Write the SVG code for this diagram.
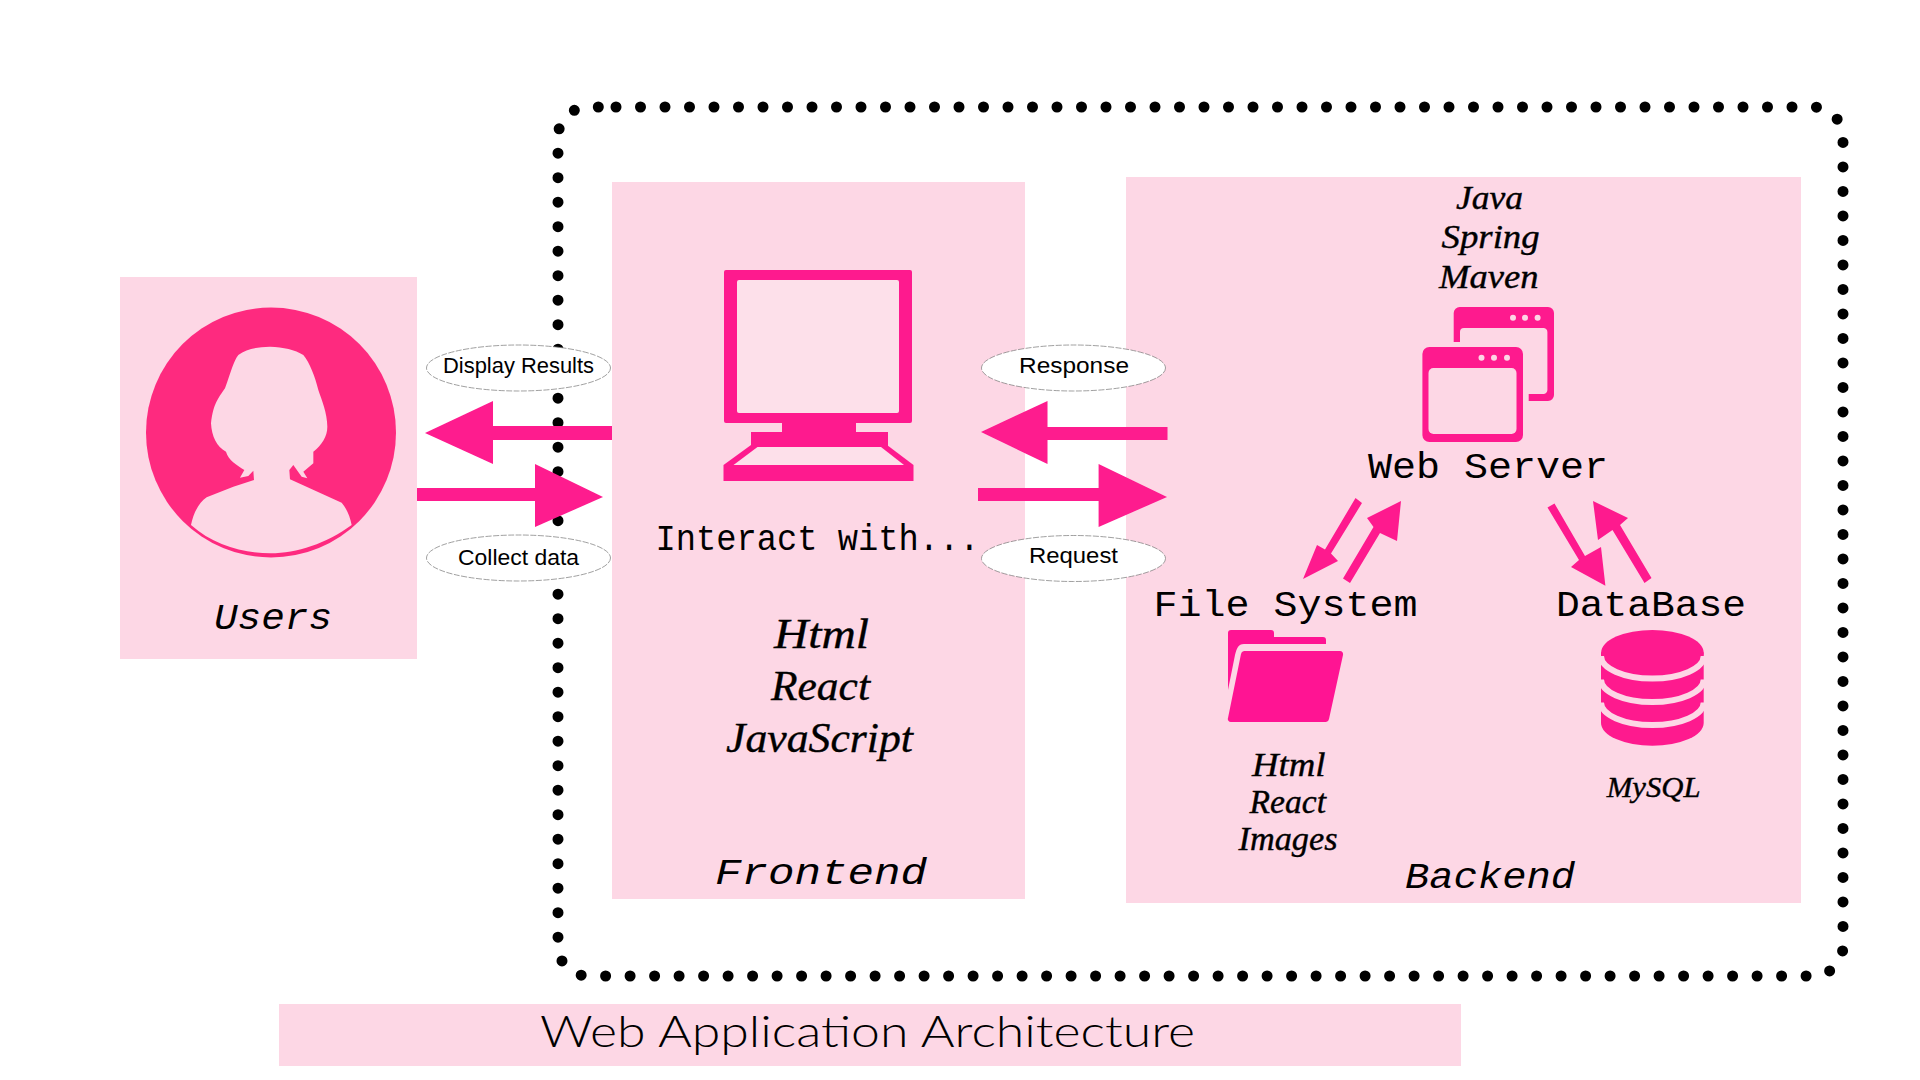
<svg xmlns="http://www.w3.org/2000/svg" width="1920" height="1080" viewBox="0 0 1920 1080">
<style>
.box{fill:#fdd7e5}
.ico{fill:#fe1a8e}
.lt{fill:#fde0ea}
.mono{font-family:"Liberation Mono",monospace;fill:#000;font-size:36px}
.monoi{font-family:"Liberation Mono",monospace;font-style:italic;fill:#000;font-size:37px}
.serif{font-family:"Liberation Serif",serif;font-style:italic;fill:#000;font-size:34px;stroke:#000;stroke-width:.4}
.serifb{font-family:"Liberation Serif",serif;font-style:italic;fill:#000;font-size:43px;stroke:#000;stroke-width:.4}
.sans{font-family:"Liberation Sans",sans-serif;fill:#000;font-size:22px}
.el{fill:#fff;stroke:#777;stroke-width:.7;stroke-dasharray:6 1.500}
.arr{fill:#fe1a8e}
</style>
<defs>
<filter id="soft" x="-5%" y="-5%" width="110%" height="110%"><feGaussianBlur stdDeviation=".7"/></filter>
</defs>
<rect width="1920" height="1080" fill="#fff"/>
<g id="boundary">
<path filter="url(#soft)" d="M616 107H1813A30 30 0 0 1 1843 137V946A30 30 0 0 1 1813 976H588A30 30 0 0 1 558 946V137A30 30 0 0 1 588 107H616" fill="none" stroke="#000" stroke-width="11" stroke-linecap="round" stroke-dasharray="0 24.5"/>
</g>
<g id="users">
<rect class="box" x="120" y="277" width="297" height="382"/>
<circle cx="271" cy="432.5" r="125" fill="#fe2a7f"/>
<path transform="translate(100 260) scale(.33333)" class="box" d="M510 260C470 262 440 266 415 285C400 305 395 330 375 385C355 415 340 430 333 490C335 530 350 560 378 575C385 600 410 615 433 630L420 653L445 648L460 632L462 660L400 680L320 712C295 730 280 760 273 795C340 855 430 880 512 880C590 880 680 850 755 795C750 770 740 745 725 728L570 658L568 630L580 615L605 650L622 655L610 635L640 610L640 575C665 555 682 530 682 500C682 460 665 420 655 390C645 350 630 310 610 285C585 268 550 262 510 260Z"/>
<text class="monoi" x="214" y="629" textLength="118" lengthAdjust="spacingAndGlyphs">Users</text>
</g>
<g id="frontend">
<rect class="box" x="612" y="182" width="413" height="717"/>
<g id="monitor">
<rect class="ico" x="724" y="270" width="188" height="153" rx="2"/>
<rect class="lt" x="737" y="280" width="162" height="133" rx="2"/>
<rect class="ico" x="782" y="420" width="74" height="14"/>
<rect class="ico" x="751" y="432" width="137" height="15"/>
<path class="ico" d="M751 445L723.500 465V481H913.500V465L887 445Z"/>
<path class="lt" d="M757.500 447H881L904 465H733.500Z"/>
</g>
<text class="mono" x="655.500" y="550" textLength="324" lengthAdjust="spacingAndGlyphs">Interact with...</text>
<text class="serifb" x="774" y="648" textLength="95" lengthAdjust="spacingAndGlyphs">Html</text>
<text class="serifb" x="771" y="700" textLength="99" lengthAdjust="spacingAndGlyphs">React</text>
<text class="serifb" x="726" y="752" textLength="187" lengthAdjust="spacingAndGlyphs">JavaScript</text>
<text class="monoi" x="715" y="884" textLength="212" lengthAdjust="spacingAndGlyphs">Frontend</text>
</g>
<g id="backend">
<rect class="box" x="1126" y="177" width="675" height="726"/>
<text class="serif" x="1456" y="209" textLength="67" lengthAdjust="spacingAndGlyphs">Java</text>
<text class="serif" x="1441.600" y="248" textLength="98" lengthAdjust="spacingAndGlyphs">Spring</text>
<text class="serif" x="1439" y="288" textLength="99.500" lengthAdjust="spacingAndGlyphs">Maven</text>
<g id="web-server-icon">
<path class="ico" fill-rule="evenodd" d="M1460 307H1548A6 6 0 0 1 1554 313V395A6 6 0 0 1 1548 401H1528.700V394H1543A4 4 0 0 0 1547.400 390V332A4 4 0 0 0 1543 328H1464A4 4 0 0 0 1460 332V342H1453.700V313A6 6 0 0 1 1460 307Z"/>
<rect class="ico" x="1422.400" y="347" width="100.600" height="95" rx="7"/>
<rect class="box" x="1428.500" y="368" width="88" height="66" rx="5"/>
<g fill="#fdd7e5"><circle cx="1513" cy="317.700" r="3"/><circle cx="1525" cy="317.700" r="3"/><circle cx="1537.600" cy="317.700" r="3"/><circle cx="1481.500" cy="357.700" r="3"/><circle cx="1494" cy="357.700" r="3"/><circle cx="1507" cy="357.700" r="3"/></g>
</g>
<text class="mono" x="1368" y="478" textLength="240" lengthAdjust="spacingAndGlyphs">Web Server</text>
<text class="mono" x="1153.500" y="616" textLength="264" lengthAdjust="spacingAndGlyphs">File System</text>
<text class="mono" x="1556" y="616" textLength="190" lengthAdjust="spacingAndGlyphs">DataBase</text>
<g id="folder-icon" fill="#ff1493">
<path d="M1231 630H1271A3 3 0 0 1 1274 633V637H1323A3 3 0 0 1 1326 640V644H1244C1238 644 1237 648 1235 655L1228 690V633A3 3 0 0 1 1231 630Z"/>
<path d="M1244 651H1340A3.500 3.500 0 0 1 1343 655L1329 719A3.500 3.500 0 0 1 1326 722H1231A3 3 0 0 1 1228 718L1241 654A3.500 3.500 0 0 1 1244 651Z"/>
</g>
<g id="database-icon">
<path class="ico" d="M1601 652.500V723A51.300 22.700 0 0 0 1703.700 723V652.500Z"/>
<ellipse class="ico" cx="1652.400" cy="652.500" rx="51.300" ry="22.500"/>
<g fill="none" stroke="#fdd7e5" stroke-width="6"><path d="M1601 656A51.300 22.500 0 0 0 1703.700 656"/><path d="M1601 679.500A51.300 22.500 0 0 0 1703.700 679.500"/><path d="M1601 702.500A51.300 22.500 0 0 0 1703.700 702.500"/></g>
</g>
<text class="serif" x="1252" y="775.700" textLength="73.500" lengthAdjust="spacingAndGlyphs">Html</text>
<text class="serif" x="1249.600" y="812.700" textLength="76.400" lengthAdjust="spacingAndGlyphs">React</text>
<text class="serif" x="1238.500" y="850" textLength="99" lengthAdjust="spacingAndGlyphs">Images</text>
<text class="serif" x="1606.800" y="796.700" style="font-size:30px" textLength="93.700" lengthAdjust="spacingAndGlyphs">MySQL</text>
<text class="monoi" x="1405" y="888" textLength="170" lengthAdjust="spacingAndGlyphs">Backend</text>
</g>
<g id="connectors">
<g filter="url(#soft)">
<path class="arr" d="M612 426V440H493V464L425 433L493 401V426Z"/>
<path class="arr" d="M417 488L535 488V464L603 497L535 527V501L417 501Z"/>
<path class="arr" d="M1167.500 427V440H1047.500V464L981 432L1047.500 401V427Z"/>
<path class="arr" d="M978 488H1098.600V464L1167 497L1098.600 527V501H978Z"/>
</g>
<path class="arr" d="M1355.500 498L1362 503L1331 553.500L1338 561L1303 579L1317 545L1325 549.500Z"/>
<path class="arr" d="M1343 578.500L1350 583L1380 533L1397 541L1401 501L1367 518L1373.500 527Z"/>
<path class="arr" d="M1547.500 507.500L1554.500 503.500L1585 556L1601 547L1605.400 585.700L1571 567L1579 560Z"/>
<path class="arr" d="M1644.500 583L1651.500 578L1620 525L1628 518L1593 501L1598 540L1612.500 530Z"/>
</g>
<g id="label-display-results"><ellipse class="el" cx="518.500" cy="368" rx="92" ry="23"/><text class="sans" x="443" y="373" textLength="151" lengthAdjust="spacingAndGlyphs">Display Results</text></g>
<g id="label-collect-data"><ellipse class="el" cx="518.500" cy="558" rx="92" ry="23"/><text class="sans" x="458" y="565" textLength="121" lengthAdjust="spacingAndGlyphs">Collect data</text></g>
<g id="label-response"><ellipse class="el" cx="1073.500" cy="368" rx="92" ry="23"/><text class="sans" x="1019" y="373" textLength="110" lengthAdjust="spacingAndGlyphs">Response</text></g>
<g id="label-request"><ellipse class="el" cx="1073.500" cy="558.500" rx="92" ry="23"/><text class="sans" x="1029" y="563" textLength="89" lengthAdjust="spacingAndGlyphs">Request</text></g>
<g id="title">
<rect class="box" x="279" y="1004" width="1182" height="62"/>
<text x="540" y="1047" textLength="655" lengthAdjust="spacingAndGlyphs" style="font-family:Lato,'Noto Sans',sans-serif;font-weight:300;font-size:44px" fill="#000">Web Application Architecture</text>
</g>
</svg>
